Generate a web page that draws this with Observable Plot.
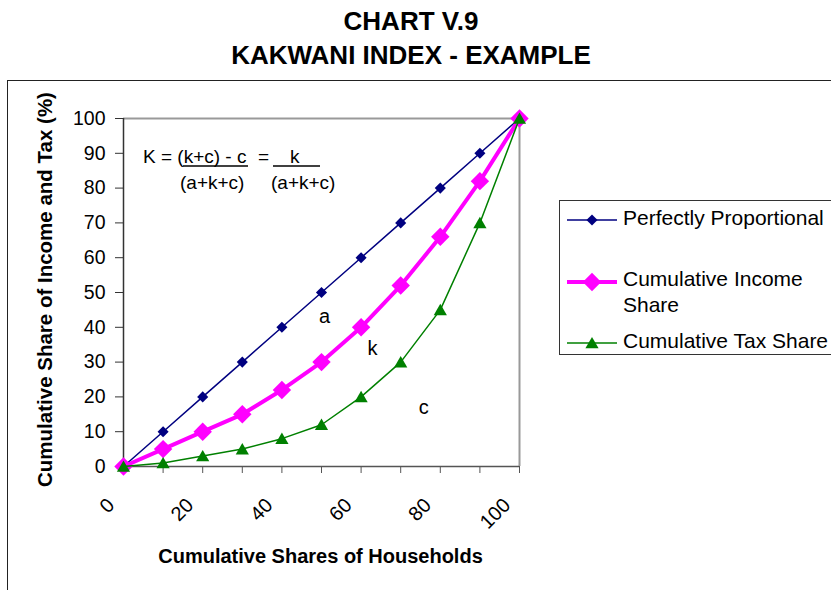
<!DOCTYPE html>
<html><head><meta charset="utf-8">
<script src="https://cdn.jsdelivr.net/npm/d3@7"></script>
<script src="https://cdn.jsdelivr.net/npm/@observablehq/plot@0.6"></script>
<style>
body{margin:0;background:#fff;}
#wrap{position:relative;width:831px;height:590px;overflow:hidden;background:#fff;font-family:"Liberation Sans",Arial,sans-serif;}
#title{position:absolute;left:0;top:4px;width:822px;text-align:center;font-weight:bold;font-size:26px;line-height:34px;color:#000;}
#chart{position:absolute;left:0;top:81px;}
#border{position:absolute;left:7px;top:80px;width:900px;height:600px;border-left:1.5px solid #222;border-top:1.5px solid #222;pointer-events:none}
#overlay{position:absolute;left:0;top:0;pointer-events:none;font-family:"Liberation Sans",Arial,sans-serif;}
</style></head>
<body><div id="wrap">
<div id="title">CHART V.9<br>KAKWANI INDEX - EXAMPLE</div>
<div id="chart"></div>
<div id="border"></div>
<svg id="overlay" width="831" height="590"></svg>
</div>
<script>
// ---- data ----
const households = [0, 10, 20, 30, 40, 50, 60, 70, 80, 90, 100];
const proportional = [0, 10, 20, 30, 40, 50, 60, 70, 80, 90, 100];
const incomeShare = [0, 5, 10, 15, 22, 30, 40, 52, 66, 82, 100];
const taxShare = [0, 1, 3, 5, 8, 12, 20, 30, 45, 70, 100];
const yTicks = [0, 10, 20, 30, 40, 50, 60, 70, 80, 90, 100];
const xTicks = [0, 10, 20, 30, 40, 50, 60, 70, 80, 90, 100];
const xTickLabels = [0, 20, 40, 60, 80, 100];
const areaLabels = ["a", "k", "c"];
const areaLabelX = [50.8, 62.9, 75.8];
const areaLabelY = [43.1, 33.9, 17];
const seriesNames = ["Perfectly Proportional", "Cumulative Income|Share", "Cumulative Tax Share"];
const seriesColors = ["#000080", "#FF00FF", "#008000"];
const xTitle = "Cumulative Shares of Households";
const yTitle = "Cumulative Share of Income and Tax (%)";

const rows = vals => households.map((x, i) => ({x, y: vals[i]}));
const prop = rows(proportional), inc = rows(incomeShare), tax = rows(taxShare);
const notes = areaLabels.map((t, i) => ({t, x: areaLabelX[i], y: areaLabelY[i]}));
const font = "Liberation Sans, Arial, sans-serif";

const chart = Plot.plot({
  width: 831, height: 509,
  marginTop: 37, marginBottom: 124, marginLeft: 123, marginRight: 312,
  style: {background: "transparent", fontFamily: font, color: "#000", overflow: "visible"},
  x: {type: "linear", domain: [0, 100]},
  y: {domain: [0, 100]},
  marks: [
    Plot.ruleY([100], {stroke: "#999", strokeWidth: 2}),
    Plot.ruleX([100], {stroke: "#999", strokeWidth: 2}),
    Plot.axisY({ticks: yTicks, tickSize: 8, tickPadding: 10, fontSize: 19.5, label: null, stroke: "#333"}),
    Plot.axisX({ticks: xTicks, tickSize: 7, tickFormat: () => "", label: null, stroke: "#555"}),
    Plot.ruleX([0], {stroke: "#333", strokeWidth: 1.5}),
    Plot.ruleY([0], {stroke: "#555", strokeWidth: 1.5}),
    Plot.text(xTickLabels, {x: d => d, text: d => String(d), frameAnchor: "bottom", rotate: -45,
      textAnchor: "end", lineAnchor: "bottom", dx: -8, dy: 40, fontSize: 20}),
    Plot.line(prop, {x: "x", y: "y", stroke: seriesColors[0], strokeWidth: 1.5}),
    Plot.dot(prop, {x: "x", y: "y", symbol: "diamond2", r: 5, fill: seriesColors[0], stroke: "none"}),
    Plot.line(inc, {x: "x", y: "y", stroke: seriesColors[1], strokeWidth: 4}),
    Plot.dot(inc, {x: "x", y: "y", symbol: "diamond2", r: 8.3, fill: seriesColors[1], stroke: "none"}),
    Plot.line(tax, {x: "x", y: "y", stroke: seriesColors[2], strokeWidth: 1.5}),
    Plot.dot(tax, {x: "x", y: "y", symbol: "triangle2", r: 6.3, dy: 1.5, fill: seriesColors[2], stroke: "none"}),
    Plot.text(notes, {x: "x", y: "y", text: "t", fontSize: 20, lineAnchor: "middle"}),
    Plot.text([xTitle], {text: d => d, frameAnchor: "bottom", textAnchor: "middle", dy: 96, dx: -1, fontWeight: "bold", fontSize: 20}),
    Plot.text([yTitle], {text: d => d, frameAnchor: "left", textAnchor: "middle", rotate: -90, dx: -78, dy: -3, fontWeight: "bold", fontSize: 20.5})
  ]
});
document.getElementById("chart").appendChild(chart);

// ---- overlay: formula and legend ----
const ov = d3.select("#overlay");
const f = ov.append("g").attr("font-size", 19).attr("fill", "#000");
f.append("text").attr("x", 143).attr("y", 163).text("K = (k+c) - c");
f.append("text").attr("x", 258).attr("y", 163).text("=");
f.append("text").attr("x", 290).attr("y", 163).text("k");
f.append("line").attr("x1", 183).attr("x2", 248).attr("y1", 166).attr("y2", 166).attr("stroke", "#000").attr("stroke-width", 1.5);
f.append("line").attr("x1", 273).attr("x2", 320).attr("y1", 166).attr("y2", 166).attr("stroke", "#000").attr("stroke-width", 1.5);
f.append("text").attr("x", 180).attr("y", 189).text("(a+k+c)");
f.append("text").attr("x", 271).attr("y", 189).text("(a+k+c)");

const lg = ov.append("g");
lg.append("rect").attr("x", 559.5).attr("y", 200.5).attr("width", 320).attr("height", 154)
  .attr("fill", "#fff").attr("stroke", "#333").attr("stroke-width", 1);
const swY = [220, 282, 343];
const txY = [[225], [286, 312], [348]];
const sym = [d3.symbolDiamond2, d3.symbolDiamond2, d3.symbolTriangle2];
const symSize = [Math.PI * 25, Math.PI * 8.3 * 8.3, Math.PI * 6.3 * 6.3];
const swW = [1.5, 4, 1.5];
seriesNames.forEach((name, i) => {
  lg.append("line").attr("x1", 567).attr("x2", 617).attr("y1", swY[i]).attr("y2", swY[i])
    .attr("stroke", seriesColors[i]).attr("stroke-width", swW[i]);
  lg.append("path").attr("d", d3.symbol(sym[i], symSize[i])())
    .attr("transform", `translate(592,${swY[i] + (i === 2 ? 1.5 : 0)})`).attr("fill", seriesColors[i]);
  name.split("|").forEach((part, j) => {
    lg.append("text").attr("x", 623).attr("y", txY[i][j]).attr("font-size", 21).attr("fill", "#000").text(part);
  });
});
</script>
</body></html>
